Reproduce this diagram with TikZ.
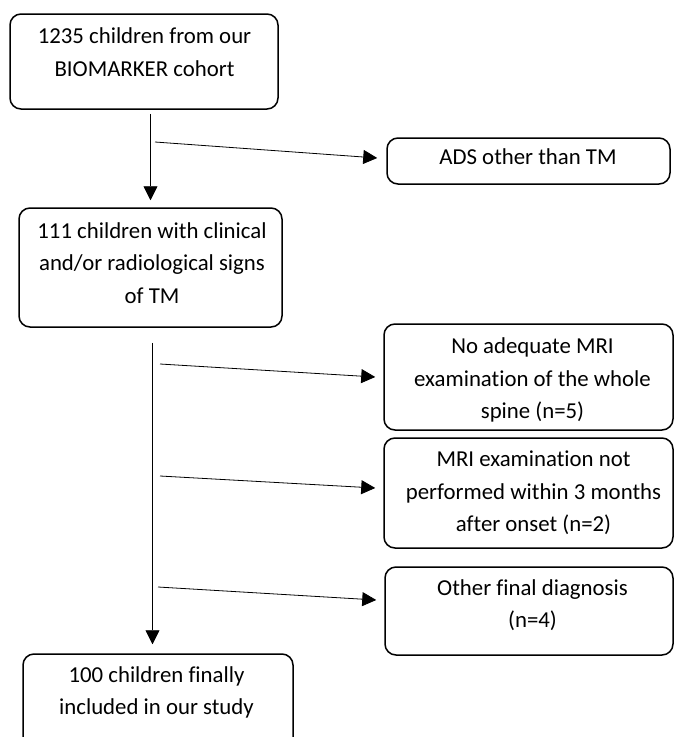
\documentclass[tikz,border=0pt]{standalone}
\usepackage{fontspec}
\setmainfont{Carlito}[Ligatures=NoCommon]
\usetikzlibrary{arrows.meta,calc}
\begin{document}
\begin{tikzpicture}[x=1pt,y=-1pt,
  box/.style={draw, line width=1.5pt, rounded corners=11pt, inner sep=0pt},
  lbl/.style={align=center, font=\fontsize{22.8}{32.5}\selectfont, inner sep=0pt},
  arr/.style={-{Triangle[length=14pt,width=14pt]}, line width=0.8pt}]
\useasboundingbox (0,0) rectangle (675,737);
\clip (0,0) rectangle (675,737);
\fill[white] (0,0) rectangle (675,737);
% boxes
\node[box, minimum width=268pt, minimum height=95pt]  (b1) at (144,61.5) {};
\node[box, minimum width=283pt, minimum height=46pt]  (b2) at (528.5,161) {};
\node[box, minimum width=263pt, minimum height=119pt] (b3) at (150.5,267.5) {};
\node[box, minimum width=289pt, minimum height=106pt] (b4) at (528.5,377) {};
\node[box, minimum width=289pt, minimum height=110pt] (b5) at (528.5,493) {};
\node[box, minimum width=288pt, minimum height=88pt]  (b6) at (529,611) {};
\node[box, minimum width=270pt, minimum height=106pt] (b7) at (158,707) {};
% texts
\node[lbl] (t1) at (144.5,52) {1235 children from our\\BIOMARKER cohort};
\node[lbl] (t2) at (528,157) {ADS other than TM};
\node[lbl] (t3) at (152,263) {111 children with clinical\\and/or radiological signs\\of TM};
\node[lbl] (t4) at (532.5,380) {No adequate MRI\\examination of the whole\\spine (n=5)};
\node[lbl] (t5) at (533.5,493) {MRI examination not\\performed within 3 months\\after onset (n=2)};
\node[lbl] (t6) at (532.5,605) {Other final diagnosis\\(n=4)};
\node[lbl] (t7) at (156.5,692.5) {100 children finally\\included in our study};
% main flow
\draw[arr] ($(b1.south -| b3.north)+(0,4)$) -- ($(b3.north)+(0,-7)$);
\draw[arr] ($(b3.south)+(2,15)$) -- ($(b3.south |- b7.north)+(2,-9)$);
% exclusions
\coordinate (s1) at (155,142);
\coordinate (s2) at (160,364);
\coordinate (s3) at (160,476);
\coordinate (s4) at (158,587);
\draw[arr] (s1) -- ($(b2.west)+(-9,-3)$);
\draw[arr] (s2) -- ($(b4.west)+(-8,0)$);
\draw[arr] (s3) -- ($(b5.west)+(-8,-5)$);
\draw[arr] (s4) -- ($(b6.west)+(-8,-11)$);
\end{tikzpicture}
\end{document}
